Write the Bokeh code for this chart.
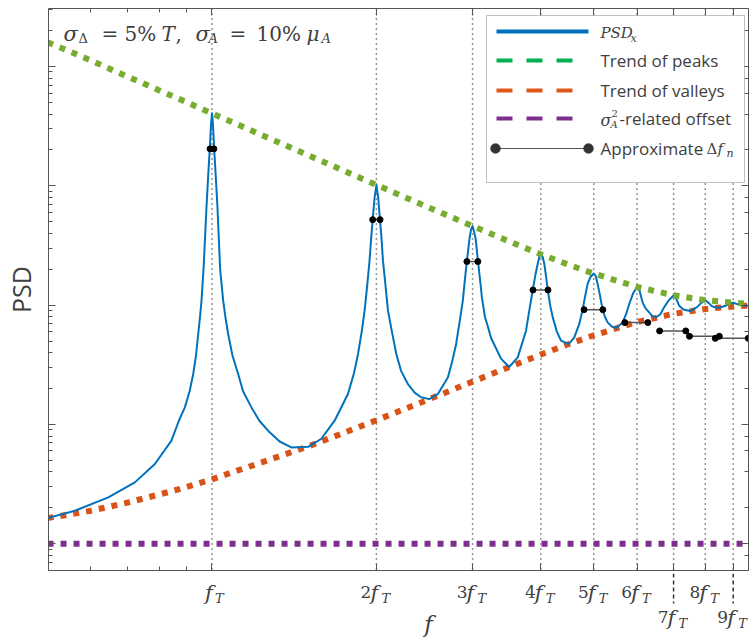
from bokeh.plotting import figure
from bokeh.layouts import column
from bokeh.models import (Span, Label, BoxAnnotation, Arrow, FixedTicker,
                          LogAxis, LogTicker, CustomJSTickFormatter)
from bokeh.embed import file_html
from bokeh.resources import INLINE

# ---------------- data ----------------
f_blue = [0.50, 0.561, 0.646, 0.7225, 0.786, 0.843, 0.87, 0.892, 0.91, 0.924,
          0.935, 0.9436, 0.951, 0.9568, 0.965, 0.9771, 0.984, 0.9908, 0.996, 1.0,
          1.004, 1.0093, 1.016, 1.0234, 1.035, 1.0483, 1.058, 1.0706, 1.09, 1.1166,
          1.14, 1.181, 1.22, 1.2668, 1.33, 1.3975, 1.5, 1.586, 1.677, 1.774,
          1.82, 1.851, 1.88, 1.903, 1.925, 1.943, 1.957, 1.968, 1.985, 2.0,
          2.015, 2.031, 2.043, 2.056, 2.077, 2.100, 2.135, 2.175, 2.22, 2.284,
          2.35, 2.415, 2.5, 2.592, 2.703, 2.75, 2.799, 2.84, 2.879, 2.905,
          2.929, 2.961, 2.98, 3.0, 3.02, 3.039, 3.067, 3.095, 3.121, 3.16,
          3.2, 3.243, 3.382, 3.5, 3.629, 3.758, 3.81, 3.866, 3.91, 3.948,
          3.975, 4.0, 4.03, 4.059, 4.085, 4.119, 4.16, 4.206, 4.28, 4.355,
          4.5, 4.606, 4.704, 4.771, 4.82, 4.872, 4.93, 5.0, 5.04, 5.082,
          5.13, 5.19, 5.24, 5.301, 5.4, 5.5, 5.647, 5.73, 5.806, 5.9,
          6.0, 6.07, 6.142, 6.22, 6.316, 6.4, 6.5, 6.62, 6.725, 6.86,
          7.0, 7.08, 7.165, 7.3, 7.5, 7.718, 7.86, 8.0, 8.12, 8.222,
          8.36, 8.5, 8.723, 8.86, 9.0, 9.213, 9.4, 9.6]
psd_blue = [1.64, 1.89, 2.45, 3.27, 4.66, 7.31, 10.8, 13.9, 19.0, 26.5,
            38.0, 57.3, 80, 109, 200, 661, 1200, 2042, 3300, 4050,
            3300, 2042, 1200, 661, 200, 109, 80, 57.3, 38, 26.5,
            19, 13.9, 10.8, 8.87, 7.2, 6.42, 6.5, 7.59, 10.75, 18.0,
            27, 39.0, 60, 89.9, 150, 236, 370, 511, 800, 1018,
            800, 511, 370, 236, 150, 89.9, 60, 39.0, 28, 21.8,
            18.5, 16.9, 16.3, 18.0, 24.8, 33, 47.3, 72, 109, 165,
            236, 360, 430, 460, 410, 360, 240, 165, 115, 80,
            66, 53, 35.6, 30.3, 36.5, 61.1, 90, 134, 180, 222,
            255, 267, 255, 222, 180, 134, 100, 79.0, 60, 50.4,
            47.2, 53.7, 69.6, 91.7, 118, 150.6, 172, 184, 176, 150.6,
            122, 91.7, 80, 71.7, 66, 64.3, 71.7, 84, 102.3, 125,
            141.6, 130, 105.6, 94, 87.0, 81, 78.9, 84, 95.8, 110,
            120.6, 113, 99.0, 92, 89.2, 95.8, 104, 109.9, 104, 98.1,
            95.7, 95.5, 99.0, 102.5, 104.7, 101, 99, 98.8]

f_trend = [0.5, 0.6, 0.7, 0.85, 1.0, 1.5, 2.0, 2.5, 3.0, 3.5, 4.0, 4.5, 5.0, 6.0, 7.0, 8.0, 9.0, 9.6]
peak_trend = [16000, 11257, 8240, 5610, 4050, 1806, 1018, 655, 460, 342, 267, 218, 184, 142, 121, 110, 105, 102.5]
valley_trend = [1.64, 1.89, 2.21, 2.78, 3.47, 6.54, 10.84, 16.3, 22.85, 30.3, 38.55, 47.2, 55.9, 72.1, 84.6, 92.9, 97.4, 98.9]

f_offset = [0.5, 9.6]
offset_level = [1.0, 1.0]

harmonics = [1, 2, 3, 4, 5, 6, 7, 8, 9]
df_left = [0.992, 1.969, 2.929, 3.870, 4.800, 5.700, 6.600, 7.485, 8.345]
df_right = [1.008, 2.031, 3.067, 4.122, 5.195, 6.280, 7.370, 8.490, 9.590]
df_level = [2042, 521, 232, 134, 91.7, 71.4, 60.8, 54.8, 52.7]

tick_prefix = ["", "2", "3", "4", "5", "6", "7", "8", "9"]
tick_lowered = [False, False, False, False, False, False, True, False, True]

x_lo, x_hi = 0.502, 9.6
y_lo, y_hi = 0.597, 30650

# ---------------- styling ----------------
BLUE = "#0072BD"
GREEN = "#77AC30"
ORANGE = "#D95319"
PURPLE = "#7E2F8E"
TXT = "#404040"
AX = "#555555"
SERIF = "DejaVu Serif"
SANS = "Open Sans"

W = 753
FL, FR = 47, 5          # frame borders (left/right)
PH = 573                # main figure height; frame bottom at 570
FB = 570
QH = 639 - PH           # strip under the axis for the tick labels

p = figure(width=W, height=PH, x_axis_type="log", y_axis_type="log",
           x_range=(x_lo, x_hi), y_range=(y_lo, y_hi),
           output_backend="svg", toolbar_location=None,
           min_border_left=FL, min_border_right=FR, min_border_top=8,
           min_border_bottom=PH - FB)
p.xgrid.visible = False
p.ygrid.visible = False
p.outline_line_color = None

def style_axis(ax):
    ax.axis_line_color = AX
    ax.major_tick_line_color = AX
    ax.minor_tick_line_color = AX
    ax.major_tick_in = 7
    ax.major_tick_out = 0
    ax.minor_tick_in = 4
    ax.minor_tick_out = 0
    ax.formatter = CustomJSTickFormatter(code="return ''")
    ax.major_label_text_font_size = "2px"
    ax.major_label_standoff = 0

p.xaxis.ticker = FixedTicker(ticks=harmonics, minor_ticks=[0.6, 0.7, 0.8, 0.9])
style_axis(p.xaxis[0])
style_axis(p.yaxis[0])
p.yaxis.axis_label = "PSD"
p.yaxis.axis_label_text_font = SANS
p.yaxis.axis_label_text_font_size = "25px"
p.yaxis.axis_label_text_font_style = "normal"
p.yaxis.axis_label_text_color = TXT
p.yaxis.axis_label_standoff = 11

top = LogAxis(ticker=FixedTicker(ticks=harmonics, minor_ticks=[0.6, 0.7, 0.8, 0.9]))
style_axis(top)
p.add_layout(top, "above")
right = LogAxis(ticker=LogTicker())
style_axis(right)
p.add_layout(right, "right")

# vertical dotted lines at harmonics
for n in harmonics:
    p.add_layout(Span(location=n, dimension="height", line_color="#2a2a2a",
                      line_width=1.5, line_dash="1 4", level="underlay"))

# curves
p.line(f_offset, offset_level, line_color=PURPLE, line_width=6, line_dash="6 7")
p.line(f_trend, valley_trend, line_color=ORANGE, line_width=6, line_dash="6 7")
p.line(f_blue, psd_blue, line_color=BLUE, line_width=2, line_join="round")
p.line(f_trend, peak_trend, line_color=GREEN, line_width=6, line_dash="6 7")

# delta f markers
p.segment(x0=df_left, y0=df_level, x1=df_right, y1=df_level, line_color="#555555", line_width=1.5)
p.scatter(df_left, df_level, size=6, color="black")
p.scatter(df_right, df_level, size=6, color="black")

# ---------------- texts in the plot (y = visual centre, page pixels) ----------------
def put(text, px, cy, size, font=SANS, style="normal", align="left", color=TXT):
    p.add_layout(Label(x=px - FL, y=FB - cy, x_units="screen", y_units="screen",
                       text=text, text_font=font, text_font_size=f"{size}px",
                       text_font_style=style, text_align=align,
                       text_baseline="middle", text_color=color))

# annotation
put("σ", 62, 33, 21, font=SERIF, style="italic")
put("Δ", 77, 38, 13, font=SERIF)
put("=", 100, 33, 20, font=SERIF)
put("5%", 123, 33, 20, font=SERIF)
put("T", 160, 33, 20, font=SERIF, style="italic")
put(",", 174, 33, 20, font=SERIF)
put("σ", 194, 33, 21, font=SERIF, style="italic")
put("A", 207, 38, 13, font=SERIF, style="italic")
put("=", 228, 33, 20, font=SERIF)
put("10%", 255, 33, 20, font=SERIF)
put("μ", 305, 33, 20, font=SERIF, style="italic")
put("A", 320, 38, 13, font=SERIF, style="italic")

# legend box
p.add_layout(BoxAnnotation(left=485 - FL, right=743 - FL, top=FB - 15, bottom=FB - 182,
                           left_units="screen", right_units="screen",
                           top_units="screen", bottom_units="screen",
                           fill_color="white", fill_alpha=1.0,
                           line_color="#333333", line_width=1))

def sample(py, color, dash, width=4, x0=495, x1=587):
    p.add_layout(Arrow(end=None, x_start=x0 - FL, y_start=FB - py, x_end=x1 - FL, y_end=FB - py,
                       start_units="screen", end_units="screen",
                       line_color=color, line_width=width, line_dash=dash))

sample(31, BLUE, "solid")
sample(60, "#00B050", "16 14", x1=574)
sample(90, "#E0561A", "16 14", x1=574)
sample(118, PURPLE, "16 14", x1=574)
sample(148, "#555555", "solid", width=1.2)
for cx in (494, 587):
    p.add_layout(BoxAnnotation(left=cx - 5 - FL, right=cx + 5 - FL, top=FB - 143, bottom=FB - 153,
                               left_units="screen", right_units="screen",
                               top_units="screen", bottom_units="screen",
                               fill_color="#333333", fill_alpha=1.0, line_color="#333333",
                               border_radius=5))

put("PSD", 599, 32, 15, font=SERIF, style="italic")
put("x", 629, 38, 11, font=SERIF, style="italic")
put("Trend of peaks", 599, 60, 17)
put("Trend of valleys", 599, 90, 17)
put("σ", 599, 120, 16, font=SERIF, style="italic")
put("A", 609, 124, 10, font=SERIF, style="italic")
put("2", 610, 113, 10, font=SERIF)
put("-related offset", 618, 118, 17)
put("Approximate", 599, 148, 17)
put("Δ", 705, 148, 15, font=SERIF)
put("f", 716, 148, 15, font=SERIF, style="italic")
put("n", 725, 153, 11, font=SERIF, style="italic")

# ---------------- strip below the axis: tick labels and axis name ----------------
q = figure(width=W, height=QH, x_axis_type="log", x_range=p.x_range, y_range=(0, QH),
           output_backend="svg", toolbar_location=None,
           min_border_left=FL, min_border_right=FR, min_border_top=0, min_border_bottom=0)
q.axis.visible = False
q.grid.visible = False
q.outline_line_color = None

def qy(py):
    return 639 - py

for n, pre, low in zip(harmonics, tick_prefix, tick_lowered):
    cy = 616 if low else 591
    if pre:
        q.add_layout(Label(x=n, y=qy(cy), text=pre, x_offset=-5,
                           text_font=SERIF, text_font_size="17px", text_align="right",
                           text_baseline="middle", text_color=TXT))
        fo, to = -6, 5
    else:
        fo, to = -7, 3
    q.add_layout(Label(x=n, y=qy(cy + 1), text="f", x_offset=fo,
                       text_font=SERIF, text_font_size="21px", text_font_style="italic",
                       text_align="left", text_baseline="middle", text_color=TXT))
    q.add_layout(Label(x=n, y=qy(cy + 7), text="T", x_offset=to,
                       text_font=SERIF, text_font_size="13px", text_font_style="italic",
                       text_align="left", text_baseline="middle", text_color=TXT))

lead_x = [n for n, low in zip(harmonics, tick_lowered) if low]
q.segment(x0=lead_x, y0=[QH] * len(lead_x), x1=lead_x, y1=[qy(603)] * len(lead_x),
          line_color="#333333", line_width=1.5, line_dash="4 3")

q.add_layout(Label(x=427 - FL, y=qy(623), x_units="screen", text="f",
                   text_font=SERIF, text_font_size="23px", text_font_style="italic",
                   text_align="center", text_baseline="middle", text_color=TXT))

layout = column(p, q, spacing=0)
open("out.html", "w").write(file_html(layout, INLINE))
